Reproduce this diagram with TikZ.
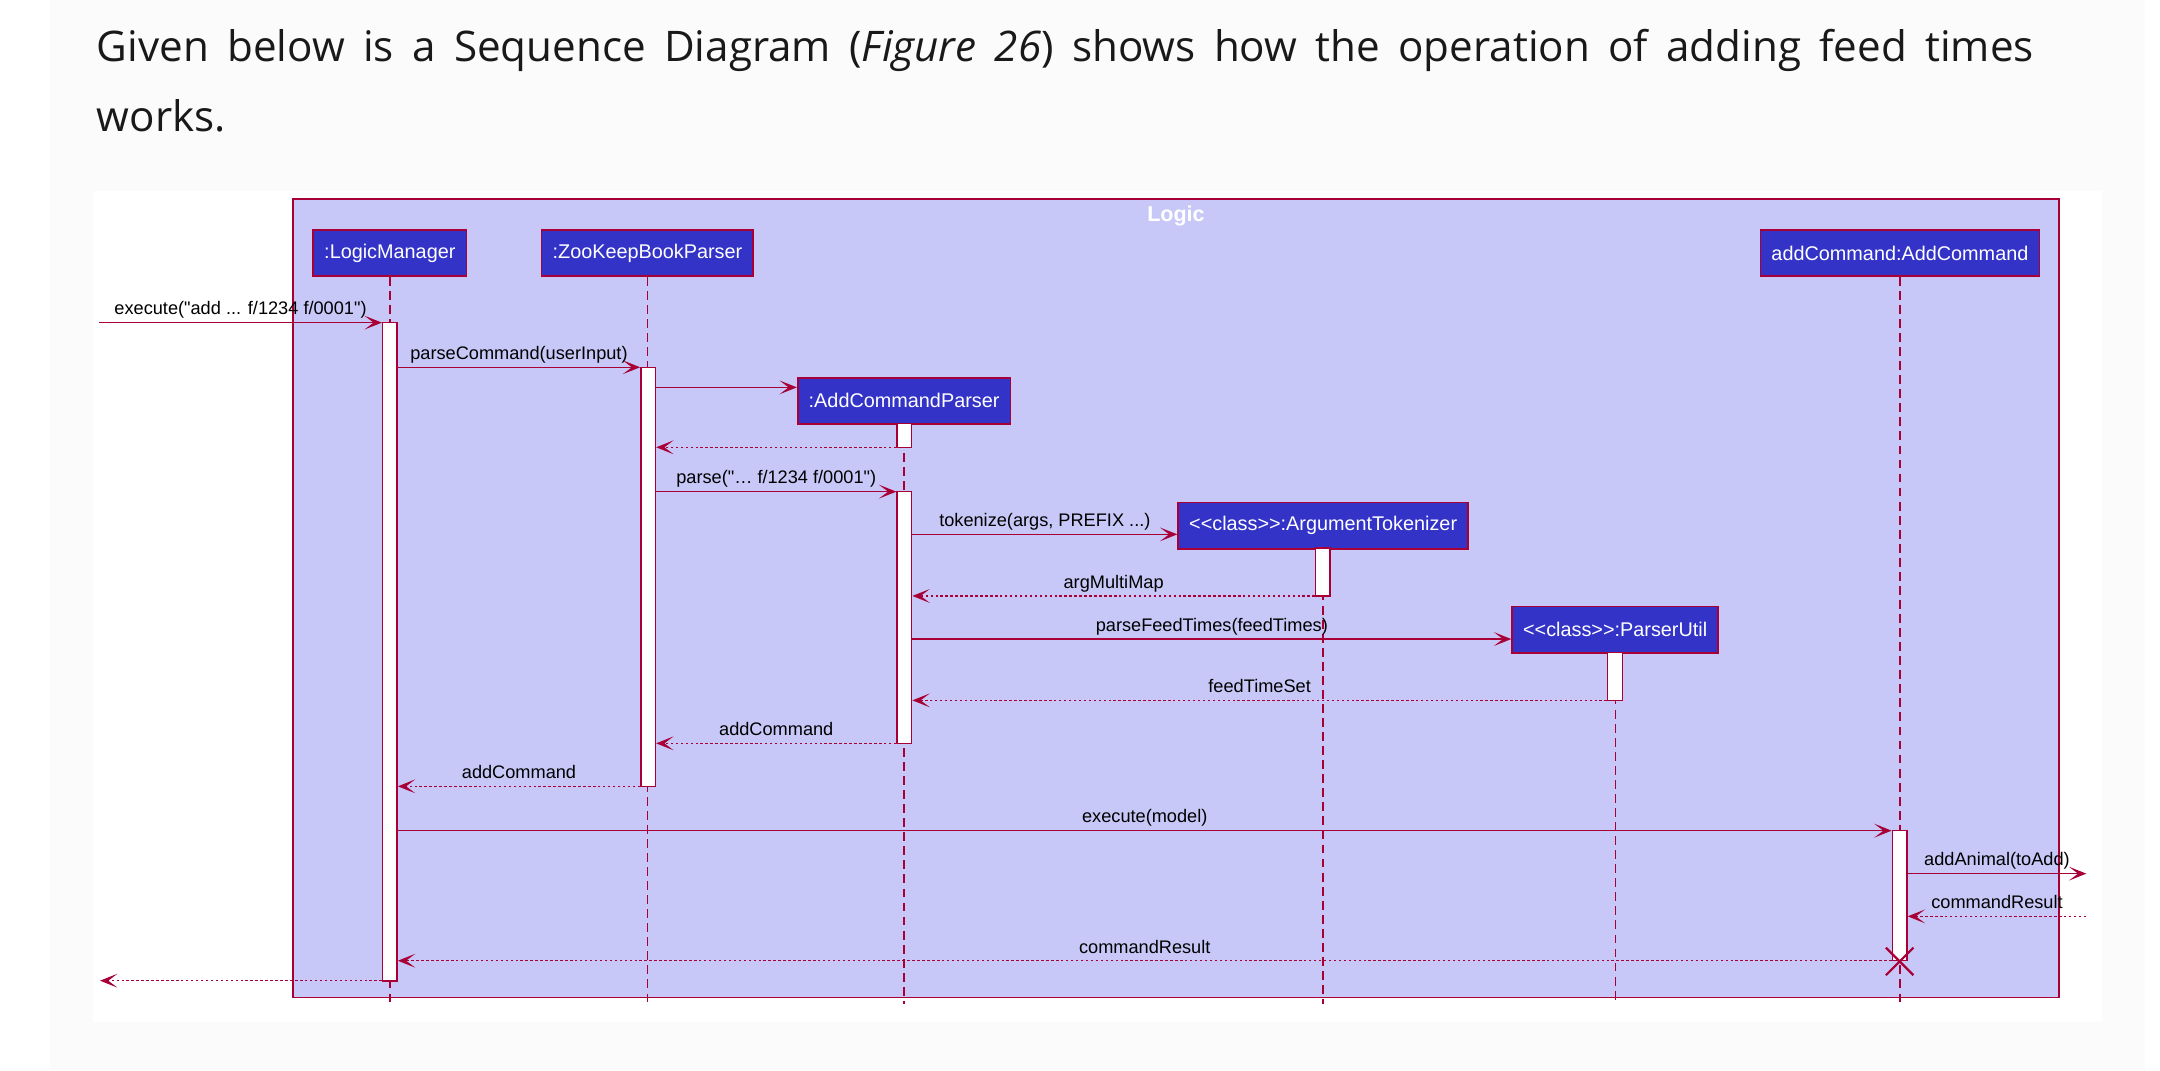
\documentclass[tikz,border=0pt]{standalone}
\usepackage{fontspec}
\newfontfamily\umlfont{Liberation Sans}
\newfontfamily\introfont{Open Sans}
\usetikzlibrary{positioning, arrows.meta, fit, calc, backgrounds}
\definecolor{umlRed}{RGB}{168,0,54}
\definecolor{umlBlue}{RGB}{51,51,200}
\definecolor{umlLilac}{RGB}{200,200,248}
\definecolor{pageGrey}{RGB}{251,251,251}
\tikzset{
  introtext/.style={
    font=\introfont\fontsize{15.3}{18}\selectfont, text=black!90,
    anchor=base west, inner sep=0pt
  },
  % Logic frame
  logicframe/.style={
    draw=umlRed, fill=umlLilac, line width=0.6pt, inner sep=0pt
  },
  frametitle/.style={
    font=\umlfont\bfseries\fontsize{7.8}{9}\selectfont, text=white,
    anchor=base, inner sep=0pt
  },
  participant/.style={
    draw=umlRed, fill=umlBlue, line width=0.6pt, text=white,
    font=\umlfont\fontsize{7.2}{8}\selectfont,
    inner xsep=4pt, inner ysep=0pt, minimum height=16.8pt
  },
  activation/.style={
    draw=umlRed, fill=white, line width=0.5pt, inner sep=0pt
  },
  lifeline/.style={
    draw=umlRed, line width=0.5pt, dash pattern=on 3.2pt off 1.9pt
  },
  % Call / reply arrows
  call/.style={
    -{Stealth[length=6.3pt, width=5pt, inset=3.3pt]},
    draw=umlRed, line width=0.55pt
  },
  reply/.style={
    call, dash pattern=on 0.9pt off 0.9pt
  },
  msgtext/.style={
    font=\umlfont\fontsize{6.6}{7.5}\selectfont, text=black,
    inner sep=0pt, anchor=base, yshift=2.8pt
  },
  destroy/.style={
    draw=umlRed, line width=0.8pt
  },
}
\newcommand{\actbar}[4]{%
  \node[activation, fit={(#2-5.3,#3)(#2+5.3,#4)}] (#1) {};
}

\begin{document}
\begin{tikzpicture}[x=0.5pt, y=-0.5pt]

  %% ── Page ──
  \fill[white] (0,0) rectangle (1568,777);
  \fill[pageGrey] (36,0) rectangle (1557,777);
  \fill[white] (67.7,139) rectangle (1525.6,742);
  \useasboundingbox (0,0) rectangle (1568,777);

  %% ── Intro text (justified first line) ──
  \node[introtext] (introA) at (70,44.3) {\makebox[703pt][s]{Given below is a Sequence Diagram (\textit{Figure 26}) shows how the operation of adding feed times}};
  \node[introtext] (introB) at (70,95.1) {works.};

  %% ── Logic frame ──
  \node[logicframe, fit={(212.5,144.5)(1494.8,724.2)}] (logicF) {};
  \node[frametitle] (logicT) at (logicF.north |- 0,161) {Logic};

  %% ── Participants ──
  \node[participant] (logicM)    at (283,183.6)    {:LogicManager};
  \node[participant] (zkbParser) at (470,183.6)    {:ZooKeepBookParser};
  \node[participant] (acParser)  at (656.3,291)    {:AddCommandParser};
  \node[participant] (argTok)    at (960.5,381.5)  {<<class>>:ArgumentTokenizer};
  \node[participant] (parserU)   at (1172.5,457)   {<<class>>:ParserUtil};
  \node[participant] (addCmd)    at (1379.2,183.6) {addCommand:AddCommand};

  %% ── Lifelines ──
  \coordinate (lifeEnd) at (0,729);
  \draw[lifeline] (logicM.south)    -- (logicM.south |- lifeEnd);
  \draw[lifeline] (zkbParser.south) -- (zkbParser.south |- lifeEnd);
  \draw[lifeline] (acParser.south)  -- (acParser.south |- lifeEnd);
  \draw[lifeline] (argTok.south)    -- (argTok.south |- lifeEnd);
  \draw[lifeline] (parserU.south)   -- (parserU.south |- lifeEnd);
  \draw[lifeline] (addCmd.south)    -- (addCmd.south |- lifeEnd);

  %% ── Activations ──
  \actbar{actLM}{283}{234.2}{712}
  \actbar{actZP}{470.5}{266.6}{570.8}
  \actbar{actAPa}{656.5}{307.3}{324.7}
  \actbar{actAPb}{656.5}{356.9}{539.6}
  \actbar{actAT}{960.3}{397.8}{432.6}
  \actbar{actPU}{1172.3}{473.5}{508.4}
  \actbar{actAC}{1379}{603}{697.4}

  %% ── Messages ──
  \coordinate (execIn)  at (72,234.2);
  \coordinate (execOut) at (72.6,711.9);
  \coordinate (modelOut) at (1514.5,634.2);
  \coordinate (modelIn)  at (1514.5,665.2);

  \draw[call] (execIn) -- node[midway, msgtext] {execute("add ... f/1234 f/0001")} (actLM.west |- execIn);
  \draw[call] (actLM.east |- 0,266.6) -- node[midway, msgtext] {parseCommand(userInput)} (actZP.west |- 0,266.6);
  \draw[call] (actZP.east |- 0,281.2) -- (acParser.west |- 0,281.2);
  \draw[reply] (actAPa.west |- 0,324.7) -- (actZP.east |- 0,324.7);
  \draw[call] (actZP.east |- 0,356.9) -- node[midway, msgtext] {parse("… f/1234 f/0001")} (actAPb.west |- 0,356.9);
  \draw[call] (actAPb.east |- 0,387.9) -- node[midway, msgtext] {tokenize(args, PREFIX ...)} (argTok.west |- 0,387.9);
  \draw[reply] (actAT.west |- 0,432.6) -- node[midway, msgtext] {argMultiMap} (actAPb.east |- 0,432.6);
  \draw[call] (actAPb.east |- 0,463.9) -- node[midway, msgtext] {parseFeedTimes(feedTimes)} (parserU.west |- 0,463.9);
  \draw[reply] (actPU.west |- 0,508.4) -- node[midway, msgtext] {feedTimeSet} (actAPb.east |- 0,508.4);
  \draw[reply] (actAPb.west |- 0,539.6) -- node[midway, msgtext] {addCommand} (actZP.east |- 0,539.6);
  \draw[reply] (actZP.west |- 0,570.8) -- node[midway, msgtext] {addCommand} (actLM.east |- 0,570.8);
  \draw[call] (actLM.east |- 0,603) -- node[midway, msgtext] {execute(model)} (actAC.west |- 0,603);
  \draw[call] (actAC.east |- modelOut) -- node[midway, msgtext] {addAnimal(toAdd)} (modelOut);
  \draw[reply] (modelIn) -- node[midway, msgtext] {commandResult} (actAC.east |- modelIn);
  \draw[reply] (actAC.west |- 0,697.4) -- node[midway, msgtext] {commandResult} (actLM.east |- 0,697.4);
  \draw[reply] (actLM.west |- execOut) -- (execOut);

  %% ── Destroy addCommand ──
  \draw[destroy] (actAC.south) +(-10,-10) -- +(10,10) +(-10,10) -- +(10,-10);

\end{tikzpicture}
\end{document}
